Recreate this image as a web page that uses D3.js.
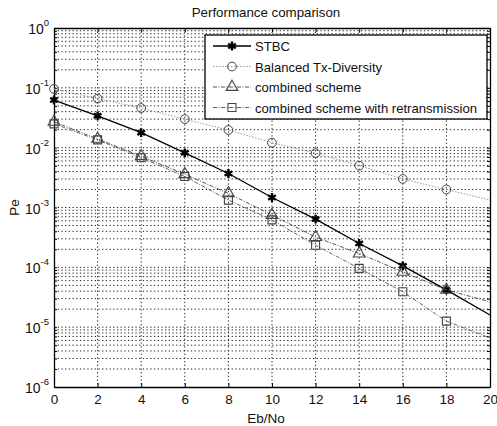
<!DOCTYPE html>
<meta charset="utf-8">
<script src="https://d3js.org/d3.v7.min.js"></script>
<style>
  body { margin: 0; background: #fff; }
  text { font-family: "Liberation Sans", Arial, sans-serif; fill: #111; }
  .grid line { stroke: #222; stroke-width: 1; stroke-dasharray: 1.3,2.4; }
</style>
<svg></svg>
<script>

// DATA

var ebno = [0, 2, 4, 6, 8, 10, 12, 14, 16, 18, 20];
var stbc = [0.0625, 0.034, 0.0178, 0.0082, 0.0037, 0.00147, 0.00064, 0.00025, 0.000106, 0.000042, 0.000016];
var balanced = [0.096, 0.066, 0.046, 0.030, 0.0197, 0.0121, 0.0081, 0.0050, 0.0030, 0.0020, 0.00133];
var combined = [0.027, 0.0140, 0.0072, 0.0036, 0.00172, 0.00075, 0.00032, 0.00017, 0.000084, 0.000042, 0.0000265];
var retrans = [0.025, 0.0135, 0.0068, 0.0033, 0.00133, 0.00062, 0.000234, 0.000096, 0.000039, 0.0000126, 0.0000066];
var seriesNames = ["STBC", "Balanced Tx-Diversity", "combined scheme", "combined scheme with retransmission"];
var xTicks = [0, 2, 4, 6, 8, 10, 12, 14, 16, 18, 20];
var yExponents = [0, -1, -2, -3, -4, -5, -6];

// GLOBALS

var width = 497;
var height = 426;
var margin = { top: 28, left: 54, right: 7, bottom: 39 };

var svg = d3.select("svg")
    .attr("width", width)
    .attr("height", height);

var x = d3.scaleLinear()
    .domain([0, 20])
    .range([margin.left, width - margin.right]);

var y = d3.scaleLog()
    .domain([1e-6, 1])
    .range([height - margin.bottom, margin.top]);

// GRID

var minorY = [];
yExponents.slice(1).forEach(function(e) {
  for (var m = 1; m < 10; m++) minorY.push(m * Math.pow(10, e));
});

var grid = svg.append("g").attr("class", "grid");

grid.selectAll("line.gy")
  .data(minorY.filter(function(v) { return v < 1 && v > 1e-6; }))
  .enter().append("line")
    .attr("class", "gy")
    .attr("x1", x(0)).attr("x2", x(20))
    .attr("y1", function(d) { return y(d); })
    .attr("y2", function(d) { return y(d); });

grid.selectAll("line.gx")
  .data(xTicks.slice(1, -1))
  .enter().append("line")
    .attr("class", "gx")
    .attr("y1", y(1)).attr("y2", y(1e-6))
    .attr("x1", function(d) { return x(d); })
    .attr("x2", function(d) { return x(d); });

// AXES

var axisBottom = svg.append("g")
  .attr("transform", "translate(0," + y(1e-6) + ")")
  .call(d3.axisBottom(x).tickValues(xTicks).tickSizeInner(-4).tickSizeOuter(0).tickPadding(7));
axisBottom.selectAll("text").style("font-size", "13.5px");

var axisTop = svg.append("g")
  .attr("transform", "translate(0," + y(1) + ")")
  .call(d3.axisTop(x).tickValues(xTicks).tickSizeInner(-4).tickSizeOuter(0).tickFormat(""));

var axisLeft = svg.append("g")
  .attr("transform", "translate(" + x(0) + ",0)")
  .call(d3.axisLeft(y).tickValues(minorY.concat([1])).tickSizeInner(-3).tickSizeOuter(0).tickFormat(""));

var axisRight = svg.append("g")
  .attr("transform", "translate(" + x(20) + ",0)")
  .call(d3.axisRight(y).tickValues(minorY.concat([1])).tickSizeInner(-3).tickSizeOuter(0).tickFormat(""));

[axisBottom, axisTop, axisLeft, axisRight].forEach(function(a) {
  a.selectAll("path.domain").attr("stroke", "#000").attr("stroke-width", 1.3);
  a.selectAll("line").attr("stroke", "#000");
});

// decade labels 10^n
var yl = svg.append("g").selectAll("text")
  .data(yExponents)
  .enter().append("text")
    .attr("x", x(0) - 5)
    .attr("y", function(d) { return y(Math.pow(10, d)) + 6; })
    .attr("text-anchor", "end")
    .style("font-size", "14px");
yl.append("tspan").text("10");
yl.append("tspan")
  .attr("dy", -8)
  .style("font-size", "9.5px")
  .text(function(d) { return d; });

// SERIES

var series = [
  { name: seriesNames[0], values: stbc, stroke: "#000", dash: null, width: 1.3, symbol: d3.symbolAsterisk, size: 55, mstroke: 2.4 },
  { name: seriesNames[1], values: balanced, stroke: "#999", dash: "1.5,1.5", width: 1, symbol: d3.symbolCircle, size: 60, mstroke: 1 },
  { name: seriesNames[2], values: combined, stroke: "#555", dash: "4,1.5,1,1.5", width: 1, symbol: d3.symbolTriangle, size: 60, mstroke: 1.1 },
  { name: seriesNames[3], values: retrans, stroke: "#666", dash: "4,1.5,1,1.5", width: 1, symbol: d3.symbolSquare, size: 64, mstroke: 1.1 }
];

var line = d3.line()
  .x(function(d) { return x(d[0]); })
  .y(function(d) { return y(d[1]); });

series.forEach(function(s) {
  var pts = ebno.map(function(e, i) { return [e, s.values[i]]; });
  svg.append("path")
    .datum(pts)
    .attr("d", line)
    .attr("fill", "none")
    .attr("stroke", s.stroke)
    .attr("stroke-width", s.width)
    .attr("stroke-dasharray", s.dash);
  svg.append("g").selectAll("path")
    .data(pts.filter(function(p) { return p[0] < 20; }))
    .enter().append("path")
      .attr("transform", function(d) { return "translate(" + x(d[0]) + "," + y(d[1]) + ")"; })
      .attr("d", d3.symbol().type(s.symbol).size(s.size))
      .attr("fill", "none")
      .attr("stroke", s.stroke === "#000" ? "#000" : "#444")
      .attr("stroke-width", s.mstroke);
});

// LEGEND

var lg = svg.append("g").attr("transform", "translate(205,35)");
lg.append("rect")
  .attr("width", 282).attr("height", 84)
  .attr("fill", "#fff").attr("stroke", "#000").attr("stroke-width", 1.3);

series.forEach(function(s, i) {
  var ly = 11 + i * 20.5;
  lg.append("line")
    .attr("x1", 8).attr("x2", 46)
    .attr("y1", ly).attr("y2", ly)
    .attr("stroke", s.stroke)
    .attr("stroke-width", s.width)
    .attr("stroke-dasharray", s.dash);
  lg.append("path")
    .attr("transform", "translate(27," + ly + ")")
    .attr("d", d3.symbol().type(s.symbol).size(s.size))
    .attr("fill", "none")
    .attr("stroke", s.stroke === "#000" ? "#000" : "#444")
    .attr("stroke-width", s.mstroke);
  lg.append("text")
    .attr("x", 50).attr("y", ly + 5)
    .style("font-size", "13.1px")
    .text(s.name);
});

// TITLES

svg.append("text")
  .attr("x", 266)
  .attr("y", 17)
  .attr("text-anchor", "middle")
  .style("font-size", "13.3px")
  .text("Performance comparison");

svg.append("text")
  .attr("x", 266)
  .attr("y", 423)
  .attr("text-anchor", "middle")
  .style("font-size", "13.5px")
  .text("Eb/No");

svg.append("text")
  .attr("transform", "translate(19," + ((y(1) + y(1e-6)) / 2) + ") rotate(-90)")
  .attr("text-anchor", "middle")
  .style("font-size", "13.5px")
  .text("Pe");

</script>
